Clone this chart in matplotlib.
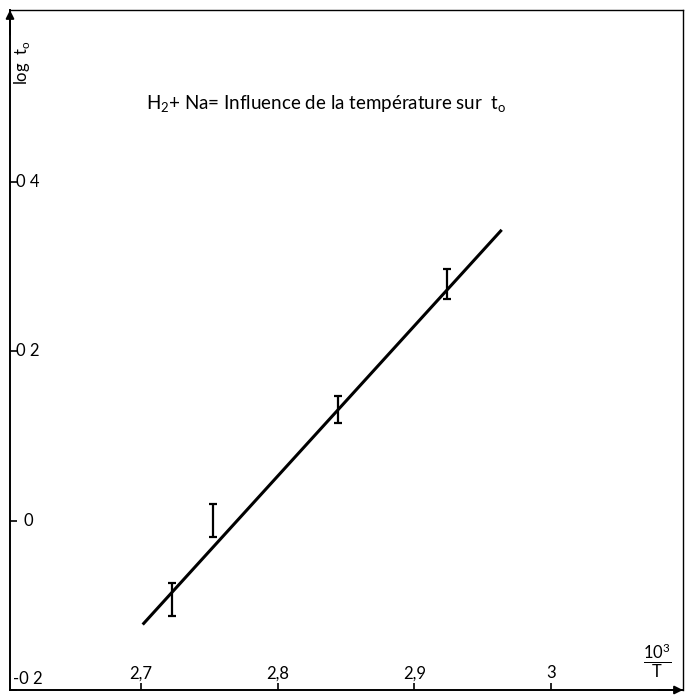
import matplotlib
matplotlib.use("Agg")
import matplotlib.pyplot as plt
from matplotlib import transforms

# ---- data ----
x_points = [2.7226, 2.753, 2.844, 2.9238]
y_points = [-0.0926, 0.0, 0.1316, 0.2796]
y_err = [0.0195, 0.0195, 0.016, 0.0175]

fit_x = [2.7015, 2.9637]
fit_y = [-0.1227, 0.3434]

x_ticks = [2.7, 2.8, 2.9, 3.0]
x_tick_labels = ["2,7", "2,8", "2,9", "3"]
y_ticks = [0.4, 0.2, 0.0, -0.2]
y_tick_labels = ["0 4", "0 2", "0", "-0 2"]

title_text = r"H$_2$+ Na= Influence de la température sur  t$_\mathregular{o}$"
y_label = r"log  t$_\mathregular{o}$"
x_label = r"$\mathregular{\frac{10^3}{T}}$"

plt.rcParams["font.family"] = ["Lato", "DejaVu Sans"]
plt.rcParams["mathtext.fontset"] = "custom"
plt.rcParams["mathtext.rm"] = "Lato"

W, H = 685, 696
fig = plt.figure(figsize=(W / 100, H / 100), dpi=100)
left_px, right_px, top_px, bot_px = 10, 683, 10, 690
ax = fig.add_axes([left_px / W, (H - bot_px) / H,
                   (right_px - left_px) / W, (bot_px - top_px) / H])
ax.set_xlim(2.6046, 3.0961)
ax.set_ylim(-0.2, 0.603)

for s in ax.spines.values():
    s.set_linewidth(1.4)
    s.set_color("black")
ax.spines["top"].set_linewidth(1.0)
ax.spines["right"].set_linewidth(1.0)

ax.set_xticks(x_ticks)
ax.set_yticks(y_ticks)
ax.set_xticklabels([])
ax.set_yticklabels([])
ax.tick_params(direction="in", length=5, width=1.2, colors="black",
               top=False, right=False)

# tick labels drawn inside the axes
tx = transforms.blended_transform_factory(ax.transData, ax.transAxes)
for v, lab in zip(x_ticks, x_tick_labels):
    ax.text(v, 0.013, lab, transform=tx, ha="center", va="bottom",
            fontsize=12)
ty = transforms.blended_transform_factory(ax.transAxes, ax.transData)
for v, lab in zip(y_ticks, y_tick_labels):
    if v > -0.2:
        ax.text(0.009 if v != 0 else 0.02, v, lab, transform=ty,
                ha="left", va="center", fontsize=12)
    else:
        ax.text(0.004, v + 0.004, lab, transform=ty, ha="left",
                va="bottom", fontsize=12)

# axis arrows
ax.annotate("", xy=(1.004, 0.0), xytext=(0.96, 0.0), xycoords="axes fraction",
            arrowprops=dict(arrowstyle="-|>", color="black", lw=1.4,
                            mutation_scale=12), annotation_clip=False)
ax.annotate("", xy=(0.0, 1.004), xytext=(0.0, 0.96), xycoords="axes fraction",
            arrowprops=dict(arrowstyle="-|>", color="black", lw=1.4,
                            mutation_scale=12), annotation_clip=False)

# fitted line
ax.plot(fit_x, fit_y, color="black", lw=2.2, solid_capstyle="butt")

# error bars
ax.errorbar(x_points, y_points, yerr=y_err, fmt="none", ecolor="black",
            elinewidth=1.6, capsize=2.8, capthick=1.6)

# labels
ax.text(2.704, 0.491, title_text, ha="left", va="center", fontsize=13.5)
ax.text(0.018, 0.923, y_label, transform=ax.transAxes, rotation=90,
        ha="center", va="center", fontsize=12)
ax.text(3.0776, 0.014, x_label, transform=tx, ha="center", va="bottom",
        fontsize=17)

fig.savefig("out.png", dpi=100)
